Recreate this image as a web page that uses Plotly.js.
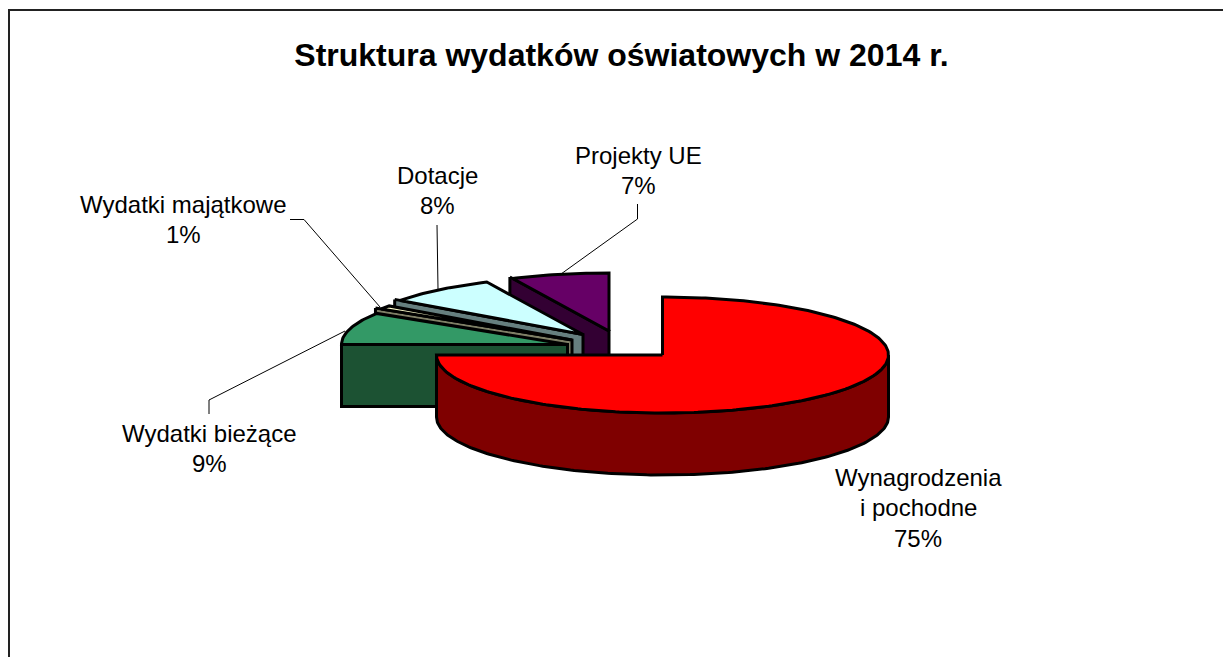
<!DOCTYPE html>
<html>
<head>
<meta charset="utf-8">
<script src="https://cdn.plot.ly/plotly-3.0.1.min.js"></script>
<style>html,body{margin:0;padding:0;background:#fff}#c{width:1223px;height:657px}</style>
</head>
<body>
<div id="c"></div>
<script>
// Data, in clockwise order starting at 12 o'clock
const categories = ['Wynagrodzenia i pochodne', 'Wydatki bieżące', 'Wydatki majątkowe', 'Dotacje', 'Projekty UE'];
const values = [75, 9, 1, 8, 7];
const labelLines = [['Wynagrodzenia', 'i pochodne'], ['Wydatki bieżące'], ['Wydatki majątkowe'], ['Dotacje'], ['Projekty UE']];

// Styles
const topColors = ['#ff0000', '#339966', '#ffffcc', '#ccffff', '#660066'];
const wallColors = ['#7f0000', '#1c5233', '#7f7f66', '#667f7f', '#330033'];

// Layout of the drawing (plot coordinates)
const radiusX = 226, radiusY = 58, depth = 62;
const sliceCentres = [[662.5, 355], [567.5, 344.5], [572, 340], [583, 334.5], [609, 331]];
const wallReach = [1, 1, 1.03, 1.03, 1.03];
const labelCentres = [[918, 477], [209, 433], [183, 204], [437, 175], [638, 155]];
const lineStep = 30.5;
const leaders = [
  [[209, 414], [209, 400], [345, 331]],
  [[290, 219.5], [304, 219.5], [380, 307]],
  [[437, 225], [438, 289]],
  [[637.5, 204], [637.5, 219], [561, 274]]
];

const total = values.reduce((a, b) => a + b, 0);
const pt = (c, deg, r = 1, dy = 0) => {
  const a = deg * Math.PI / 180;
  return [c[0] + r * radiusX * Math.sin(a), c[1] - r * radiusY * Math.cos(a) + dy];
};
const arc = (c, from, to, dy = 0) => {
  const out = [];
  const n = Math.max(2, Math.ceil(Math.abs(to - from)));
  for (let i = 0; i <= n; i++) out.push(pt(c, from + (to - from) * i / n, 1, dy));
  return out;
};
const poly = (points, fill) => ({
  type: 'scatter', mode: 'lines', fill: 'toself', fillcolor: fill,
  x: points.map(p => p[0]).concat(points[0][0]),
  y: points.map(p => p[1]).concat(points[0][1]),
  line: {color: '#000', width: 3, shape: 'linear'},
  hoverinfo: 'skip', showlegend: false
});

// Slice angle ranges derived from the values
let acc = 0;
const ranges = values.map(v => { const s = acc; acc += v / total * 360; return [s, acc]; });

const traces = [];
// Painter's order: back slices first, the large front slice last
for (let i = values.length - 1; i >= 1; i--) {
  const c = sliceCentres[i], [a0, a1] = ranges[i];
  const wall = [pt(c, a0, wallReach[i]), c, [c[0], c[1] + depth], pt(c, a0, wallReach[i], depth)];
  traces.push(poly(wall, wallColors[i]));
  traces.push(poly([c].concat(arc(c, a0, a1)), topColors[i]));
}
{
  const c = sliceCentres[0], [a0, a1] = ranges[0];
  const front = arc(c, 90, a1).concat(arc(c, a1, 90, depth));
  traces.push(poly(front, wallColors[0]));
  traces.push(poly([c].concat(arc(c, a0, a1)), topColors[0]));
}

// Data labels
const annotations = [];
labelLines.forEach((lines, i) => {
  const all = lines.concat(values[i] + '%');
  all.forEach((t, k) => annotations.push({
    x: labelCentres[i][0], y: labelCentres[i][1] + k * lineStep, xref: 'x', yref: 'y',
    text: t, showarrow: false, xanchor: 'center', yanchor: 'middle',
    font: {family: 'Liberation Sans, Arial, sans-serif', size: 24, color: '#000'}
  }));
});

const shapes = leaders.map(l => ({
  type: 'path', xref: 'x', yref: 'y',
  path: 'M' + l.map(p => p.join(',')).join('L'),
  line: {color: '#000', width: 1}
}));
// Chart-area frame: only its top and left edges fall inside the picture
shapes.push({type: 'path', xref: 'x', yref: 'y', path: 'M9,657L9,10L1223,10', line: {color: '#222', width: 2}});

Plotly.newPlot('c', traces, {
  width: 1223, height: 657,
  margin: {l: 0, r: 0, t: 0, b: 0},
  paper_bgcolor: '#fff', plot_bgcolor: '#fff',
  showlegend: false,
  title: {
    text: 'Struktura wydatków oświatowych w 2014 r.',
    x: 621.5 / 1223, xanchor: 'center', y: 1 - 55 / 657, yanchor: 'middle',
    font: {family: 'Liberation Sans, Arial, sans-serif', size: 32, color: '#000', weight: 'bold'}
  },
  xaxis: {range: [0, 1223], visible: false, fixedrange: true},
  yaxis: {range: [657, 0], visible: false, fixedrange: true},
  annotations, shapes
}, {staticPlot: true, displayModeBar: false});
</script>
</body>
</html>
